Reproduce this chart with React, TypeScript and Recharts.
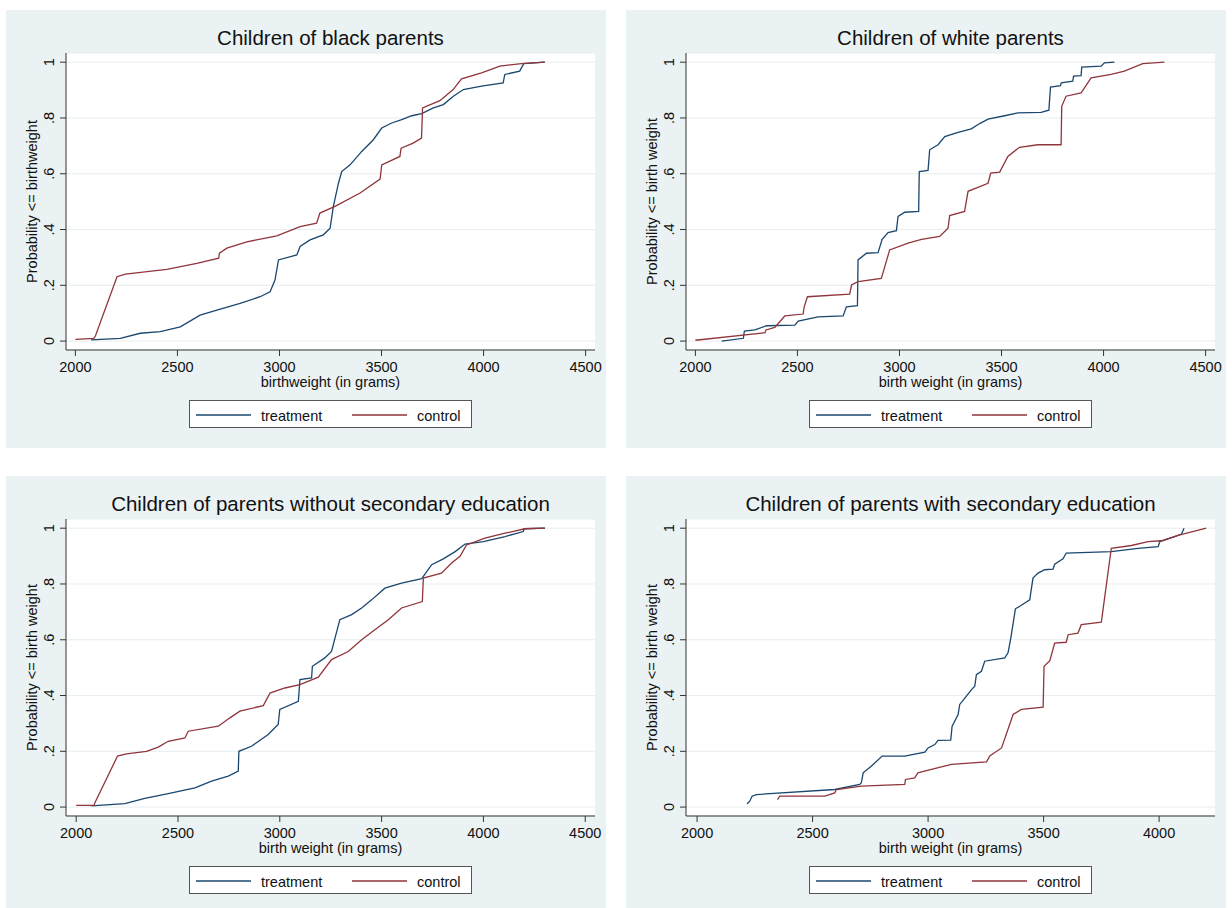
import { LineChart, Line, XAxis, YAxis, CartesianGrid, Legend } from "recharts"

const BG = "#EAF2F3"
const GRID = "#E6EEF0"
const NAVY = "#1A476F"
const MAROON = "#90353B"
const FONT = "'Liberation Sans', Arial, Helvetica, sans-serif"

const yTicks = [0, 0.2, 0.4, 0.6, 0.8, 1]
const xTicksWide = [2000, 2500, 3000, 3500, 4000, 4500]
const xTicksNarrow = [2000, 2500, 3000, 3500, 4000]

// [birth weight in grams, cumulative probability]
const blackTreatment = [
  [2077, 0.004], [2220, 0.01], [2318, 0.028], [2416, 0.034], [2514, 0.051], [2611, 0.093],
  [2693, 0.111], [2807, 0.135], [2905, 0.159], [2954, 0.177], [2978, 0.219], [2995, 0.291],
  [3085, 0.309], [3101, 0.339], [3150, 0.363], [3215, 0.381], [3248, 0.405], [3264, 0.483],
  [3289, 0.566], [3305, 0.608], [3346, 0.632], [3403, 0.68], [3460, 0.722], [3501, 0.764],
  [3550, 0.782], [3599, 0.794], [3648, 0.808], [3697, 0.816], [3754, 0.836], [3803, 0.848],
  [3852, 0.878], [3901, 0.902], [3990, 0.914], [4096, 0.926], [4104, 0.956], [4177, 0.968],
  [4197, 0.995], [4300, 1],
]
const blackControl = [
  [2000, 0.006], [2090, 0.01], [2098, 0.018], [2204, 0.231], [2245, 0.24], [2448, 0.257],
  [2595, 0.279], [2702, 0.297], [2706, 0.315], [2742, 0.333], [2840, 0.356], [2987, 0.377],
  [3101, 0.41], [3182, 0.423], [3198, 0.459], [3272, 0.483], [3395, 0.531], [3493, 0.581],
  [3501, 0.632], [3590, 0.662], [3596, 0.692], [3655, 0.71], [3696, 0.728], [3701, 0.836],
  [3786, 0.862], [3851, 0.902], [3892, 0.94], [3990, 0.962], [4080, 0.986], [4186, 0.995],
  [4300, 1],
]

const whiteTreatment = [
  [2129, 0], [2235, 0.01], [2240, 0.036], [2292, 0.04], [2349, 0.055], [2487, 0.057],
  [2504, 0.072], [2601, 0.087], [2724, 0.09], [2740, 0.123], [2794, 0.127], [2797, 0.291],
  [2838, 0.315], [2895, 0.317], [2915, 0.365], [2944, 0.389], [2985, 0.396], [2993, 0.447],
  [3026, 0.462], [3094, 0.465], [3097, 0.608], [3140, 0.612], [3148, 0.686], [3189, 0.704],
  [3222, 0.733], [3287, 0.748], [3352, 0.761], [3393, 0.78], [3434, 0.796], [3515, 0.808],
  [3580, 0.818], [3694, 0.82], [3732, 0.828], [3740, 0.911], [3789, 0.916], [3793, 0.926],
  [3849, 0.932], [3853, 0.95], [3890, 0.952], [3893, 0.982], [3988, 0.986], [4004, 0.998],
  [4053, 1],
]
const whiteControl = [
  [2000, 0.003], [2341, 0.03], [2346, 0.04], [2389, 0.049], [2438, 0.09], [2528, 0.097],
  [2533, 0.123], [2549, 0.159], [2756, 0.168], [2765, 0.201], [2797, 0.213], [2911, 0.225],
  [2928, 0.267], [2952, 0.327], [3042, 0.351], [3108, 0.365], [3197, 0.375], [3238, 0.405],
  [3246, 0.45], [3319, 0.465], [3336, 0.537], [3434, 0.566], [3447, 0.602], [3491, 0.606],
  [3531, 0.662], [3588, 0.695], [3678, 0.704], [3792, 0.704], [3795, 0.842], [3816, 0.878],
  [3890, 0.89], [3939, 0.944], [4037, 0.956], [4102, 0.968], [4192, 0.995], [4298, 1],
]

const noSecTreatment = [
  [2075, 0.004], [2239, 0.012], [2337, 0.031], [2452, 0.048], [2583, 0.069], [2665, 0.093],
  [2747, 0.111], [2796, 0.129], [2799, 0.2], [2861, 0.218], [2943, 0.26], [2992, 0.296],
  [3000, 0.35], [3091, 0.379], [3099, 0.457], [3156, 0.463], [3160, 0.505], [3221, 0.535],
  [3254, 0.558], [3271, 0.606], [3295, 0.672], [3353, 0.69], [3402, 0.714], [3451, 0.743],
  [3516, 0.785], [3598, 0.803], [3697, 0.819], [3746, 0.869], [3803, 0.89], [3861, 0.916],
  [3910, 0.943], [4000, 0.952], [4106, 0.97], [4196, 0.988], [4200, 0.998], [4302, 1],
]
const noSecControl = [
  [2000, 0.006], [2088, 0.006], [2092, 0.016], [2203, 0.183], [2247, 0.191], [2346, 0.2],
  [2403, 0.215], [2452, 0.236], [2534, 0.248], [2550, 0.272], [2698, 0.29], [2755, 0.32],
  [2804, 0.344], [2919, 0.364], [2952, 0.409], [3025, 0.427], [3099, 0.439], [3189, 0.466],
  [3254, 0.529], [3336, 0.558], [3402, 0.6], [3467, 0.636], [3533, 0.672], [3598, 0.714],
  [3700, 0.737], [3705, 0.821], [3794, 0.839], [3844, 0.875], [3885, 0.899], [3917, 0.94],
  [4007, 0.964], [4106, 0.982], [4204, 0.998], [4302, 1],
]

const secTreatment = [
  [2216, 0.012], [2228, 0.021], [2238, 0.039], [2257, 0.045], [2596, 0.063], [2704, 0.081],
  [2711, 0.087], [2719, 0.123], [2755, 0.147], [2801, 0.183], [2899, 0.183], [2986, 0.197],
  [3000, 0.212], [3029, 0.224], [3043, 0.239], [3098, 0.24], [3104, 0.29], [3130, 0.332],
  [3137, 0.368], [3159, 0.391], [3188, 0.421], [3202, 0.433], [3209, 0.475], [3231, 0.487],
  [3245, 0.523], [3332, 0.535], [3346, 0.553], [3358, 0.606], [3378, 0.711], [3397, 0.72],
  [3440, 0.743], [3454, 0.821], [3476, 0.839], [3505, 0.851], [3541, 0.853], [3548, 0.871],
  [3584, 0.89], [3598, 0.911], [3793, 0.916], [3909, 0.928], [3996, 0.934], [4003, 0.952],
  [4068, 0.97], [4097, 0.979], [4108, 1],
]
const secControl = [
  [2348, 0.027], [2358, 0.039], [2553, 0.039], [2596, 0.051], [2603, 0.063], [2711, 0.075],
  [2899, 0.081], [2902, 0.099], [2942, 0.105], [2956, 0.123], [3014, 0.135], [3101, 0.153],
  [3253, 0.162], [3267, 0.183], [3318, 0.212], [3368, 0.332], [3404, 0.35], [3498, 0.358],
  [3502, 0.505], [3527, 0.525], [3548, 0.588], [3598, 0.591], [3606, 0.618], [3649, 0.624],
  [3663, 0.654], [3750, 0.663], [3793, 0.928], [3880, 0.938], [3952, 0.952], [4010, 0.955],
  [4082, 0.974], [4204, 1],
]

const toPts = (a: number[][]) => a.map(([x, y]) => ({ x, y }))
const fmtY = (v: number) => (v === 0 || v === 1 ? String(v) : String(v).replace(/^0/, ""))

function YTick(props: any) {
  const { x, y, payload } = props
  return (
    <text transform={`translate(${x},${y}) rotate(-90)`} textAnchor="middle" fontSize={14.5} fill="#111">
      {fmtY(payload.value)}
    </text>
  )
}

function LegendBox() {
  return (
    <svg width={283} height={28} style={{ display: "block", background: "#fff", outline: "1px solid #555", outlineOffset: -1 }}>
      <line x1={7} x2={62} y1={15} y2={15} stroke={NAVY} strokeWidth={1.3} />
      <text x={72} y={20.5} fontSize={14.5} fill="#111">treatment</text>
      <line x1={163} x2={218} y1={15} y2={15} stroke={MAROON} strokeWidth={1.3} />
      <text x={228} y={20.5} fontSize={14.5} fill="#111">control</text>
    </svg>
  )
}

type PanelProps = {
  left: number
  top: number
  title: string
  xLabel: string
  yLabel: string
  treatment: number[][]
  control: number[][]
  xDomain: number[]
  xTicks: number[]
}

function Panel({ left, top, title, xLabel, yLabel, treatment, control, xDomain, xTicks }: PanelProps) {
  return (
    <div style={{ position: "absolute", left, top, width: 600, height: 438, background: BG }}>
      <div style={{ position: "absolute", left: 60, width: 529, top: 16, textAlign: "center", fontSize: 20.5, color: "#111", lineHeight: "normal" }}>
        {title}
      </div>
      <LineChart width={600} height={438} margin={{ top: 43, right: 11, bottom: 58, left: 0 }}>
        <CartesianGrid vertical={false} stroke={GRID} fill="#fff" />
        <XAxis
          type="number"
          dataKey="x"
          domain={xDomain}
          ticks={xTicks}
          allowDataOverflow
          height={40}
          tickSize={6}
          tickMargin={6}
          stroke="#333"
          tick={{ fontSize: 14.5, fill: "#111" }}
          label={{ value: xLabel, position: "insideBottom", offset: 3, fontSize: 14.5, fill: "#111" }}
        />
        <YAxis
          type="number"
          domain={[-0.032, 1.033]}
          ticks={yTicks}
          allowDataOverflow
          width={60}
          tickSize={6}
          tickMargin={6}
          stroke="#333"
          tick={<YTick />}
          label={{ value: yLabel, angle: -90, position: "insideLeft", offset: 26, fontSize: 14.5, fill: "#111", style: { textAnchor: "middle" } }}
        />
        <Line data={toPts(treatment)} dataKey="y" name="treatment" type="linear" stroke={NAVY} strokeWidth={1.3} dot={false} isAnimationActive={false} />
        <Line data={toPts(control)} dataKey="y" name="control" type="linear" stroke={MAROON} strokeWidth={1.3} dot={false} isAnimationActive={false} />
        <Legend
          verticalAlign="middle"
          align="center"
          layout="horizontal"
          wrapperStyle={{ left: 183, top: 390, width: 283, height: 28 }}
          content={() => <LegendBox />}
        />
      </LineChart>
    </div>
  )
}

export default function App() {
  return (
    <div style={{ position: "fixed", left: 0, top: 0, width: 1232, height: 908, background: "#fff", overflow: "hidden", fontFamily: FONT }}>
      <Panel
        left={6} top={10}
        title="Children of black parents"
        xLabel="birthweight (in grams)"
        yLabel="Probability <= birthweight"
        treatment={blackTreatment}
        control={blackControl}
        xDomain={[1954, 4546]}
        xTicks={xTicksWide}
      />
      <Panel
        left={626} top={10}
        title="Children of white parents"
        xLabel="birth weight (in grams)"
        yLabel="Probability <= birth weight"
        treatment={whiteTreatment}
        control={whiteControl}
        xDomain={[1954, 4546]}
        xTicks={xTicksWide}
      />
      <Panel
        left={6} top={476}
        title="Children of parents without secondary education"
        xLabel="birth weight (in grams)"
        yLabel="Probability <= birth weight"
        treatment={noSecTreatment}
        control={noSecControl}
        xDomain={[1950, 4548]}
        xTicks={xTicksWide}
      />
      <Panel
        left={626} top={476}
        title="Children of parents with secondary education"
        xLabel="birth weight (in grams)"
        yLabel="Probability <= birth weight"
        treatment={secTreatment}
        control={secControl}
        xDomain={[1952, 4242]}
        xTicks={xTicksNarrow}
      />
    </div>
  )
}
